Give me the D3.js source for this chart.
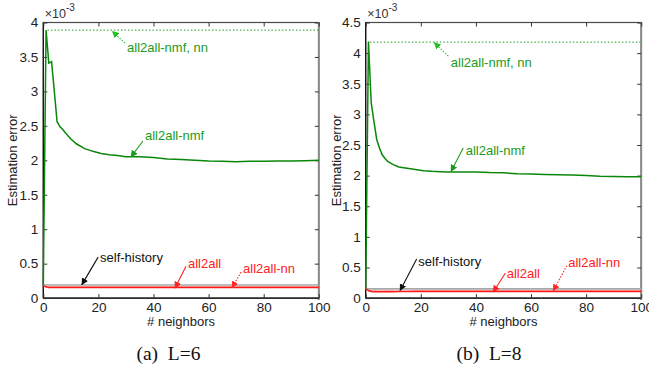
<!DOCTYPE html>
<html><head><meta charset="utf-8">
<script src="https://cdn.jsdelivr.net/npm/d3@7"></script>
<style>body{margin:0;background:#fff}svg{display:block}</style>
</head><body><svg id="c" width="649" height="370"></svg>
<script>
// ---------------- data (values in units of 1e-3) ----------------
const neighbors = [0,1,2,3,4,5,6,7,8,10,12,15,18,21,24,27,30,35,40,45,50,55,60,65,70,75,80,85,90,95,100];
const xTicks = [0,20,40,60,80,100];

// panel (a) L=6
const nmfA = [0.19,3.89,3.41,3.43,3.0,2.56,2.49,2.45,2.40,2.31,2.24,2.17,2.13,2.10,2.08,2.07,2.05,2.05,2.04,2.02,2.01,2.00,1.99,1.985,1.98,1.985,1.985,1.99,1.99,1.995,2.00];
const all2allA = [0.175,0.165,0.155,0.155,0.155,0.155,0.155,0.155,0.155,0.155,0.155,0.155,0.155,0.155,0.155,0.155,0.155,0.155,0.155,0.155,0.155,0.155,0.155,0.155,0.155,0.155,0.155,0.155,0.155,0.155,0.155];
const nmfNnA = 3.89, all2allNnA = 0.16, selfHistA = 0.19;
const yTicksA = [0,0.5,1,1.5,2,2.5,3,3.5,4];

// panel (b) L=8
const nmfB = [0.15,4.19,3.19,2.88,2.59,2.45,2.34,2.28,2.23,2.18,2.14,2.12,2.10,2.08,2.07,2.065,2.06,2.06,2.06,2.05,2.045,2.03,2.025,2.02,2.015,2.01,2.0,1.99,1.985,1.98,1.98];
const all2allB = [0.15,0.125,0.11,0.105,0.105,0.105,0.105,0.105,0.105,0.105,0.107,0.108,0.11,0.11,0.11,0.11,0.11,0.11,0.11,0.11,0.11,0.11,0.11,0.11,0.11,0.11,0.11,0.11,0.11,0.11,0.11];
const nmfNnB = 4.18, all2allNnB = 0.115, selfHistB = 0.15;
const yTicksB = [0,0.5,1,1.5,2,2.5,3,3.5,4,4.5];

const panels = [
  {left:43.3, ymax:4, yTicks:yTicksA, nmf:nmfA, a2a:all2allA, nmfNn:nmfNnA, a2aNn:all2allNnA, self:selfHistA,
   caption:"(a)  L=6", capX:168.5, ylabX:17,
   ann:[
    {t:"all2all-nmf, nn", c:"#1c9a1c", tx:30.4, ty:3.57, x1:29.7, y1:3.70, x2:25.1, y2:3.87, dash:true},
    {t:"all2all-nmf", c:"#1c9a1c", tx:36.9, ty:2.29, x1:36.2, y1:2.28, x2:31.8, y2:2.05},
    {t:"self-history", c:"#111", tx:20.6, ty:0.52, x1:19.9, y1:0.595, x2:14.0, y2:0.196},
    {t:"all2all", c:"#ff2020", tx:52.5, ty:0.435, x1:51.8, y1:0.464, x2:47.8, y2:0.145},
    {t:"all2all-nn", c:"#ff2020", tx:72.5, ty:0.363, x1:71.8, y1:0.377, x2:68.5, y2:0.152, dash:true}
   ]},
  {left:365.7, ymax:4.5, yTicks:yTicksB, nmf:nmfB, a2a:all2allB, nmfNn:nmfNnB, a2aNn:all2allNnB, self:selfHistB,
   caption:"(b)  L=8", capX:489, ylabX:341,
   ann:[
    {t:"all2all-nmf, nn", c:"#1c9a1c", tx:30.9, ty:3.78, x1:30.0, y1:3.95, x2:24.9, y2:4.17, dash:true},
    {t:"all2all-nmf", c:"#1c9a1c", tx:36.3, ty:2.34, x1:35.4, y1:2.45, x2:31.0, y2:2.07},
    {t:"self-history", c:"#111", tx:19.1, ty:0.53, x1:18.5, y1:0.64, x2:12.5, y2:0.125},
    {t:"all2all", c:"#ff2020", tx:51.2, ty:0.33, x1:50.7, y1:0.41, x2:46.3, y2:0.10},
    {t:"all2all-nn", c:"#ff2020", tx:73.5, ty:0.51, x1:73.0, y1:0.53, x2:68.1, y2:0.12, dash:true}
   ]}
];

// ---------------- drawing ----------------
const svg = d3.select("#c");
const FONT = "'Liberation Sans', Arial, Helvetica, sans-serif";
const TOP = 22.5, H = 275.6, W = 275.5;
const green = "#0a870a", red = "#ff1a1a";

const defs = svg.append("defs");
function marker(id, color){
  defs.append("marker").attr("id",id).attr("viewBox","0 0 10 10").attr("refX",9).attr("refY",5)
    .attr("markerWidth",7).attr("markerHeight",7).attr("markerUnits","userSpaceOnUse").attr("orient","auto")
    .append("path").attr("d","M0,0 L10,5 L0,10 z").attr("fill",color);
}

panels.forEach((p,i)=>{
  const x = d3.scaleLinear().domain([0,100]).range([p.left, p.left+W]);
  const y = d3.scaleLinear().domain([0,p.ymax]).range([TOP+H, TOP]);
  const g = svg.append("g");

  // frame
  g.append("rect").attr("x",x(0)).attr("y",y(p.ymax)).attr("width",W).attr("height",H)
    .attr("fill","none").attr("stroke","#4a4a4a").attr("stroke-width",1.2);
  g.append("line").attr("x1",x(100)).attr("x2",x(100)).attr("y1",y(p.ymax)).attr("y2",y(0)+2)
    .attr("stroke","#8c8c8c").attr("stroke-width",2);
  g.append("line").attr("x1",x(0)).attr("x2",x(0)).attr("y1",y(p.ymax)).attr("y2",y(0))
    .attr("stroke","#111").attr("stroke-width",1.2);
  g.append("line").attr("x1",x(0)).attr("x2",x(100)).attr("y1",y(0)).attr("y2",y(0))
    .attr("stroke","#111").attr("stroke-width",1.2);

  // axes
  const bottom = g.append("g").attr("transform",`translate(0,${y(0)})`)
    .call(d3.axisBottom(x).tickValues(xTicks).tickSizeInner(-4).tickSizeOuter(0).tickPadding(4));
  const top = g.append("g").attr("transform",`translate(0,${y(p.ymax)})`)
    .call(d3.axisTop(x).tickValues(xTicks).tickSizeInner(-4).tickSizeOuter(0).tickFormat(""));
  const left = g.append("g").attr("transform",`translate(${x(0)},0)`)
    .call(d3.axisLeft(y).tickValues(p.yTicks).tickSizeInner(-4).tickSizeOuter(0).tickPadding(5).tickFormat(d3.format("")));
  const right = g.append("g").attr("transform",`translate(${x(100)},0)`)
    .call(d3.axisRight(y).tickValues(p.yTicks).tickSizeInner(-4).tickSizeOuter(0).tickFormat(""));
  [bottom,top,left,right].forEach(a=>{
    a.select(".domain").remove();
    a.selectAll(".tick line").attr("stroke","#333").attr("stroke-width",1);
    a.selectAll("text").attr("font-family",FONT).attr("font-size",13.5).attr("fill","#222");
  });

  // x10^-3
  const m = g.append("text").attr("x",x(0)+1.5).attr("y",18).attr("font-family",FONT).attr("font-size",12.5).attr("fill","#333");
  m.append("tspan").text("\u00d710");
  m.append("tspan").attr("dy",-7).attr("font-size",10).text("-3");

  // labels
  g.append("text").attr("transform",`translate(${p.ylabX},${TOP+H/2}) rotate(-90)`).attr("text-anchor","middle")
    .attr("font-family",FONT).attr("font-size",13).attr("fill","#222").text("Estimation error");
  g.append("text").attr("x",x(50)).attr("y",326).attr("text-anchor","middle")
    .attr("font-family",FONT).attr("font-size",13).attr("fill","#222").text("# neighbors");
  g.append("text").attr("x",p.capX).attr("y",360).attr("text-anchor","middle").attr("xml:space","preserve")
    .style("white-space","pre").attr("font-family","'Liberation Serif','Times New Roman',serif").attr("font-size",19.5)
    .attr("fill","#111").text(p.caption);

  // series
  const line = d3.line().x((d,j)=>x(neighbors[j])).y(d=>y(d));
  // self-history (constant)
  g.append("line").attr("x1",x(0)).attr("x2",x(100)).attr("y1",y(p.self)).attr("y2",y(p.self))
    .attr("stroke","#a8a8a8").attr("stroke-width",1.6);
  // all2all-nn dotted
  g.append("line").attr("x1",x(1)).attr("x2",x(100)).attr("y1",y(p.a2aNn)).attr("y2",y(p.a2aNn))
    .attr("stroke","#ff9090").attr("stroke-width",1.2).attr("stroke-dasharray","1.5,1.5");
  // all2all
  g.append("path").datum(p.a2a).attr("d",line).attr("fill","none").attr("stroke",red).attr("stroke-width",1.6);
  // all2all-nmf, nn dotted
  g.append("line").attr("x1",x(1.5)).attr("x2",x(100)).attr("y1",y(p.nmfNn)).attr("y2",y(p.nmfNn))
    .attr("stroke","#4caf4c").attr("stroke-width",1.2).attr("stroke-dasharray","1.5,2");
  // all2all-nmf
  g.append("path").datum(p.nmf).attr("d",line).attr("fill","none").attr("stroke",green).attr("stroke-width",1.5);

  // annotations
  p.ann.forEach((a,k)=>{
    const id = `m${i}_${k}`;
    marker(id, a.dash ? d3.color(a.c).brighter(0.6) : a.c);
    g.append("line").attr("x1",x(a.x1)).attr("y1",y(a.y1)).attr("x2",x(a.x2)).attr("y2",y(a.y2))
      .attr("stroke", a.dash ? d3.color(a.c).brighter(0.6) : a.c).attr("stroke-width",1.1)
      .attr("stroke-dasharray", a.dash ? "1.5,1.5" : null).attr("marker-end",`url(#${id})`);
    g.append("text").attr("x",x(a.tx)).attr("y",y(a.ty)).attr("font-family",FONT).attr("font-size",13)
      .attr("fill",a.c).text(a.t);
  });
});
</script></body></html>
